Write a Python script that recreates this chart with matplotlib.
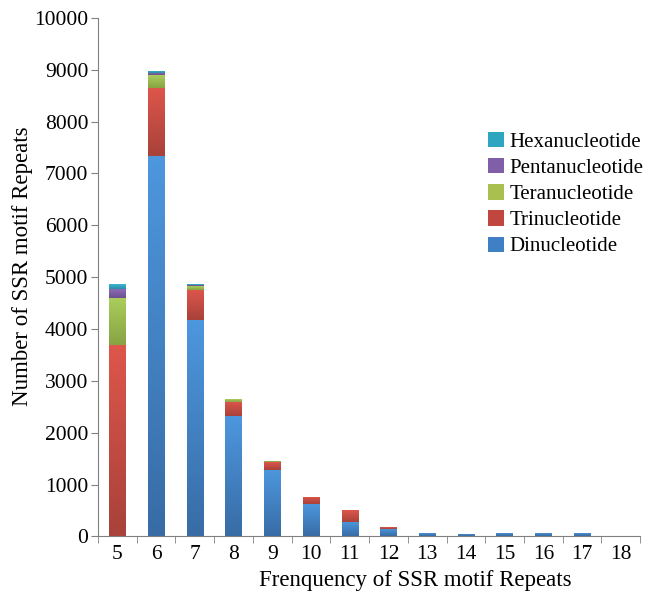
import numpy as np
import matplotlib.pyplot as plt
from matplotlib.colors import LinearSegmentedColormap

plt.rcParams['font.family'] = ['Liberation Serif', 'DejaVu Serif']

repeats = ['5', '6', '7', '8', '9', '10', '11', '12', '13', '14', '15', '16', '17', '18']
dinuc   = [0, 7330, 4180, 2330, 1290, 620, 280, 150, 75, 45, 60, 60, 70, 0]
trinuc  = [3700, 1320, 580, 270, 140, 140, 230, 30, 0, 0, 0, 0, 0, 0]
teranuc = [900, 240, 70, 50, 20, 0, 0, 0, 0, 0, 0, 0, 0, 0]
pentanuc = [170, 40, 25, 0, 0, 0, 0, 0, 0, 0, 0, 0, 0, 0]
hexanuc = [90, 40, 10, 0, 0, 0, 0, 0, 0, 0, 0, 0, 0, 0]

series = [
    ('Dinucleotide', dinuc, '#3f7fc5', '#4d97de', '#386ca6'),
    ('Trinucleotide', trinuc, '#c0463e', '#de564c', '#a8423a'),
    ('Teranucleotide', teranuc, '#a9c050', '#aacd5c', '#87a343'),
    ('Pentanucleotide', pentanuc, '#7e5fa8', '#8c6ab6', '#6c518f'),
    ('Hexanucleotide', hexanuc, '#2fa6c0', '#3cb6d2', '#2a8ea6'),
]

fig = plt.figure(figsize=(6.62, 5.96), dpi=100)
ax = fig.add_axes([0.148, 0.100, 0.819, 0.870])

x = np.arange(len(repeats))
bottom = np.zeros(len(repeats))
handles = []
for name, vals, col, top_c, bot_c in series:
    vals = np.array(vals, dtype=float)
    bars = ax.bar(x, vals, width=0.42, bottom=bottom, color=col, linewidth=0, label=name)
    handles.append(bars)
    cmap = LinearSegmentedColormap.from_list(name, [bot_c, top_c])
    grad = np.linspace(0, 1, 64).reshape(-1, 1)
    for p in bars.patches:
        if p.get_height() <= 0:
            continue
        x0, y0 = p.get_x(), p.get_y()
        im = ax.imshow(grad, cmap=cmap, origin='lower', aspect='auto',
                       extent=(x0, x0 + p.get_width(), y0, y0 + p.get_height()), zorder=2)
        im.set_clip_path(p)
    bottom += vals

ax.set_xlim(-0.5, len(repeats) - 0.5)
ax.set_ylim(0, 10000)
ax.set_yticks(np.arange(0, 10001, 1000))
ax.set_xticks(x)
ax.set_xticklabels(repeats)
ax.set_xticks(np.arange(-0.5, len(repeats)), minor=True)
ax.tick_params(axis='x', which='major', length=0, labelsize=15.5, pad=6)
ax.tick_params(axis='x', which='minor', length=5, color='#808080')
ax.tick_params(axis='y', length=5, color='#808080', labelsize=15.5, pad=2)

for s in ['top', 'right']:
    ax.spines[s].set_visible(False)
for s in ['left', 'bottom']:
    ax.spines[s].set_color('#808080')

ax.set_xlabel('Frenquency of SSR motif Repeats', fontsize=16.5, va='center')
ax.set_ylabel('Number of SSR motif Repeats', fontsize=16.5, va='center')
ax.xaxis.set_label_coords(0.585, -0.085)
ax.yaxis.set_label_coords(-0.140, 0.521)

ax.legend(handles=handles[::-1], loc='upper left', bbox_to_anchor=(0.70, 0.80),
          frameon=False, fontsize=15, handlelength=0.75, handleheight=0.75,
          handletextpad=0.3, labelspacing=0.3, borderpad=0)

fig.savefig('out.png', dpi=100)
